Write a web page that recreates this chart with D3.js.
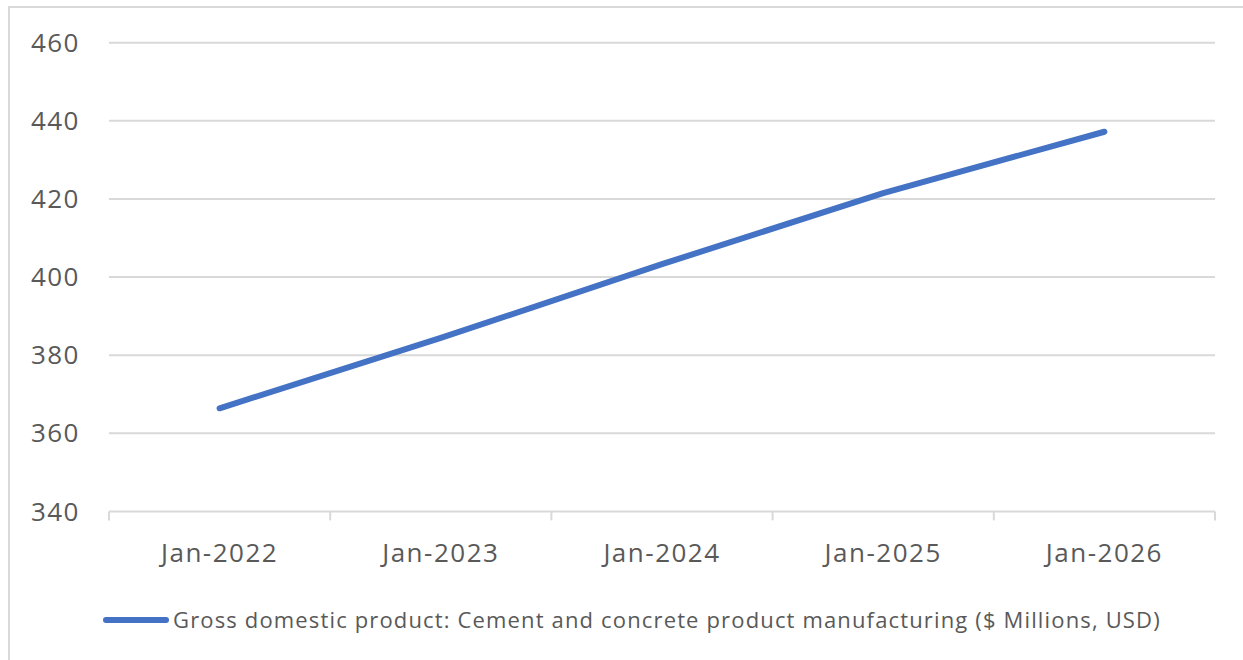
<!DOCTYPE html>
<html>
<head>
<meta charset="utf-8">
<script src="https://cdn.jsdelivr.net/npm/d3@7"></script>
<style>
  body { margin: 0; background: #fff; }
  text { font-family: "Open Sans", sans-serif; fill: #595959; }
</style>
</head>
<body>
<svg id="chart" width="1243" height="660"></svg>
<script>
var categories = ["Jan-2022", "Jan-2023", "Jan-2024", "Jan-2025", "Jan-2026"];
var values = [366.4, 384.4, 403.3, 421.5, 437.2];
var yTicks = [340, 360, 380, 400, 420, 440, 460];
var seriesName = "Gross domestic product: Cement and concrete product manufacturing ($ Millions, USD)";

var svg = d3.select("#chart");

// outer chart frame
svg.append("rect")
  .attr("x", 9)
  .attr("y", 7)
  .attr("width", 1260)
  .attr("height", 680)
  .attr("fill", "none")
  .attr("stroke", "#d9d9d9")
  .attr("stroke-width", 2);

var plotLeft = 109, plotRight = 1215, plotTop = 42.7, plotBottom = 511.4;

var x = d3.scaleBand()
  .domain(categories)
  .range([plotLeft, plotRight]);

var y = d3.scaleLinear()
  .domain([340, 460])
  .range([plotBottom, plotTop]);

// gridlines
svg.append("g")
  .selectAll("line")
  .data(yTicks.slice(1))
  .enter()
  .append("line")
  .attr("x1", plotLeft)
  .attr("x2", plotRight)
  .attr("y1", function (d) { return y(d); })
  .attr("y2", function (d) { return y(d); })
  .attr("stroke", "#d9d9d9")
  .attr("stroke-width", 2);

// y labels
svg.append("g")
  .selectAll("text")
  .data(yTicks)
  .enter()
  .append("text")
  .attr("x", 80)
  .attr("y", function (d) { return y(d); })
  .attr("dy", "0.35em")
  .attr("text-anchor", "end")
  .style("font-size", "26px")
  .style("letter-spacing", "1.5px")
  .text(function (d) { return d; });

// x axis
var xAxis = svg.append("g")
  .attr("transform", "translate(0," + plotBottom + ")");

xAxis.append("line")
  .attr("x1", plotLeft)
  .attr("x2", plotRight)
  .attr("stroke", "#d9d9d9")
  .attr("stroke-width", 2);

var edges = categories.map(function (c) { return x(c); }).concat([plotRight]);
xAxis.selectAll(".cat-tick")
  .data(edges)
  .enter()
  .append("line")
  .attr("class", "cat-tick")
  .attr("x1", function (d) { return d; })
  .attr("x2", function (d) { return d; })
  .attr("y1", 0)
  .attr("y2", 9)
  .attr("stroke", "#d9d9d9")
  .attr("stroke-width", 2);

svg.append("g")
  .selectAll("text")
  .data(categories)
  .enter()
  .append("text")
  .attr("x", function (d) { return x(d) + x.bandwidth() / 2; })
  .attr("y", 553)
  .attr("dy", "0.35em")
  .attr("text-anchor", "middle")
  .style("font-size", "26px")
  .style("letter-spacing", "1.5px")
  .text(function (d) { return d; });

// series line
var line = d3.line()
  .x(function (d, i) { return x(categories[i]) + x.bandwidth() / 2; })
  .y(function (d) { return y(d); });

svg.append("path")
  .datum(values)
  .attr("d", line)
  .attr("fill", "none")
  .attr("stroke", "#4472c4")
  .attr("stroke-width", 6)
  .attr("stroke-linecap", "round")
  .attr("stroke-linejoin", "round");

// legend
var legend = svg.append("g");
legend.append("line")
  .attr("x1", 106)
  .attr("x2", 166)
  .attr("y1", 620)
  .attr("y2", 620)
  .attr("stroke", "#4472c4")
  .attr("stroke-width", 6)
  .attr("stroke-linecap", "round");
legend.append("text")
  .attr("x", 173)
  .attr("y", 620)
  .attr("dy", "0.35em")
  .style("font-size", "22px")
  .style("letter-spacing", "1.15px")
  .text(seriesName);
</script>
</body>
</html>
